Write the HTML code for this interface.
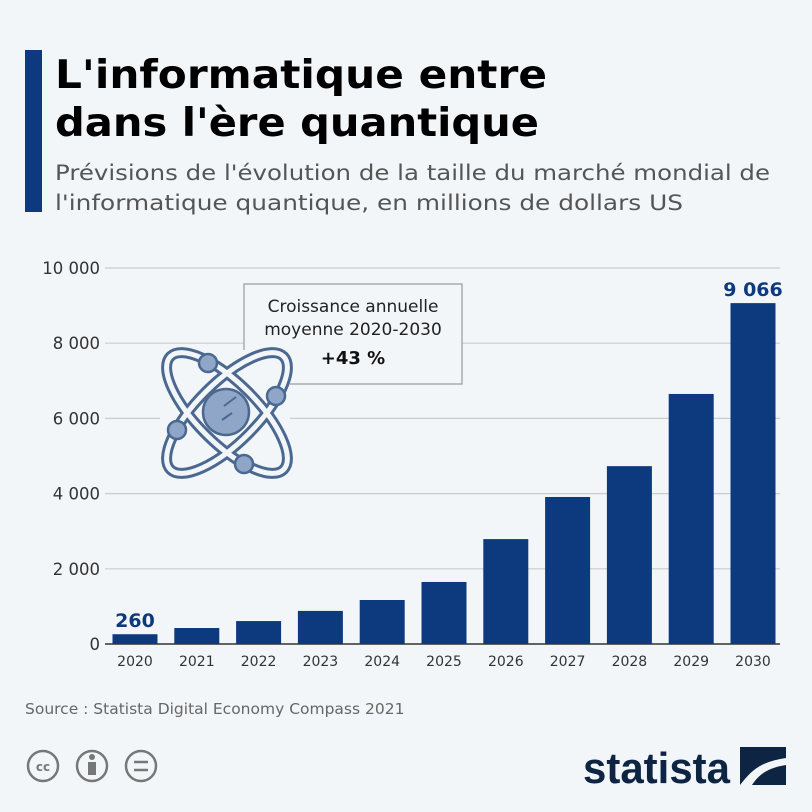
<!DOCTYPE html>
<html><head><meta charset="utf-8"><style>
html,body{margin:0;padding:0;background:#f3f6f9;}
svg{display:block;font-family:"DejaVu Sans","Liberation Sans",sans-serif;}
</style></head><body>
<svg width="812" height="812" viewBox="0 0 812 812">
<rect width="812" height="812" fill="#f3f6f9"/>
<rect x="25" y="50" width="17" height="162" fill="#0d3a7e"/>
<text x="55" y="88" font-size="39" font-weight="bold" fill="#000" textLength="492" lengthAdjust="spacingAndGlyphs">L'informatique entre</text>
<text x="55" y="136" font-size="39" font-weight="bold" fill="#000" textLength="484" lengthAdjust="spacingAndGlyphs">dans l'ère quantique</text>
<text x="55" y="180" font-size="21" fill="#555" textLength="715" lengthAdjust="spacingAndGlyphs">Prévisions de l'évolution de la taille du marché mondial de</text>
<text x="55" y="210" font-size="21" fill="#555" textLength="628" lengthAdjust="spacingAndGlyphs">l'informatique quantique, en millions de dollars US</text>
<g id="grid"></g>
<g id="bars"></g>
<g>
<rect x="244" y="284" width="218" height="100" fill="#f3f6f9" stroke="#999" stroke-width="1.2"/>
<text x="353" y="312" font-size="17" fill="#222" text-anchor="middle">Croissance annuelle</text>
<text x="353" y="335" font-size="17" fill="#222" text-anchor="middle">moyenne 2020-2030</text>
<text x="353" y="364" font-size="18" font-weight="bold" fill="#111" text-anchor="middle">+43 %</text>
</g>
<g stroke="#4a6890" stroke-width="2.5" fill="none">
<rect x="160" y="350" width="130" height="125" fill="#f3f6f9" stroke="none"/>
<ellipse cx="227" cy="413" rx="80" ry="30" transform="rotate(-45 227 413)" stroke-width="11"/>
<ellipse cx="227" cy="413" rx="80" ry="30" transform="rotate(45 227 413)" stroke-width="11"/>
<ellipse cx="227" cy="413" rx="80" ry="30" transform="rotate(-45 227 413)" stroke="#f3f6f9" stroke-width="5"/>
<ellipse cx="227" cy="413" rx="80" ry="30" transform="rotate(45 227 413)" stroke="#f3f6f9" stroke-width="5"/>
<circle cx="226" cy="412" r="23" fill="#8fa6c8"/>
<line x1="224" y1="406" x2="236" y2="397" stroke-width="2"/>
<line x1="222" y1="420" x2="232" y2="413" stroke-width="2"/>
<circle cx="208" cy="363" r="9" fill="#8fa6c8"/>
<circle cx="276" cy="396" r="9" fill="#8fa6c8"/>
<circle cx="177" cy="430" r="9" fill="#8fa6c8"/>
<circle cx="244" cy="464" r="9" fill="#8fa6c8"/>
</g>
<text x="25" y="714" font-size="15.5" fill="#666">Source : Statista Digital Economy Compass 2021</text>
<g stroke="#777" stroke-width="2.5" fill="none">
<circle cx="43" cy="766" r="15"/><text x="43" y="771" font-size="12" font-weight="bold" fill="#777" stroke="none" text-anchor="middle">cc</text>
<circle cx="92" cy="766" r="15"/><circle cx="92" cy="757" r="3" fill="#777" stroke="none"/><rect x="88" y="762" width="8" height="13" fill="#777" stroke="none"/>
<circle cx="141" cy="766" r="15"/><line x1="134" y1="762" x2="148" y2="762"/><line x1="134" y1="770" x2="148" y2="770"/>
</g>
<g>
<text x="583" y="783" font-size="44" font-weight="bold" fill="#0e2443" textLength="147" lengthAdjust="spacingAndGlyphs" font-family="Liberation Sans Narrow, Liberation Sans, sans-serif">statista</text>
<rect x="740" y="747" width="46" height="38" fill="#0e2443"/>
<path d="M740 785 C752 770 760 762 786 758 L786 765 C766 768 758 776 752 785 Z" fill="#f3f6f9"/>
</g>
</svg>
<script>
const years=["2020","2021","2022","2023","2024","2025","2026","2027","2028","2029","2030"];
const values=[260,425,610,880,1170,1650,2790,3910,4730,6650,9066];
const yTicks=[0,2000,4000,6000,8000,10000];
const yTickLabels=["0","2 000","4 000","6 000","8 000","10 000"];
const printedLabels={0:"260",10:"9 066"};
const NS="http://www.w3.org/2000/svg";
function y(v){return 644-v*0.0376;}
function x(i){return 135+i*61.8;}
const grid=document.getElementById('grid'),bars=document.getElementById('bars');
function mk(tag,attrs,parent,txt){const e=document.createElementNS(NS,tag);for(const k in attrs)e.setAttribute(k,attrs[k]);if(txt!=null)e.textContent=txt;parent.appendChild(e);return e;}
yTicks.forEach((t,i)=>{
 const l=mk('line',{x1:105,x2:780,y1:y(t),y2:y(t),stroke:t===0?'#333':'#ccc','stroke-width':t===0?1.5:1.2},grid);
 
 
 const tx=mk('text',{x:100,y:y(t)+6,'font-size':16.5,fill:'#333','text-anchor':'end'},grid,yTickLabels[i]);
 
 
});
years.forEach((yr,i)=>{
 const r=mk('rect',{x:x(i)-22.5,y:y(values[i]),width:45,height:644-y(values[i]),fill:'#0d3a7e'},bars);
 
 
 const t=mk('text',{x:x(i),y:666,'font-size':14,fill:'#333','text-anchor':'middle'},bars,yr);
 
 
 if(printedLabels[i]){
  const v=mk('text',{x:x(i),y:y(values[i])-7,'font-size':19,'font-weight':'bold',fill:'#0d3a7e','text-anchor':'middle'},bars,printedLabels[i]);
  
  
 }
});
</script>
</body></html>
